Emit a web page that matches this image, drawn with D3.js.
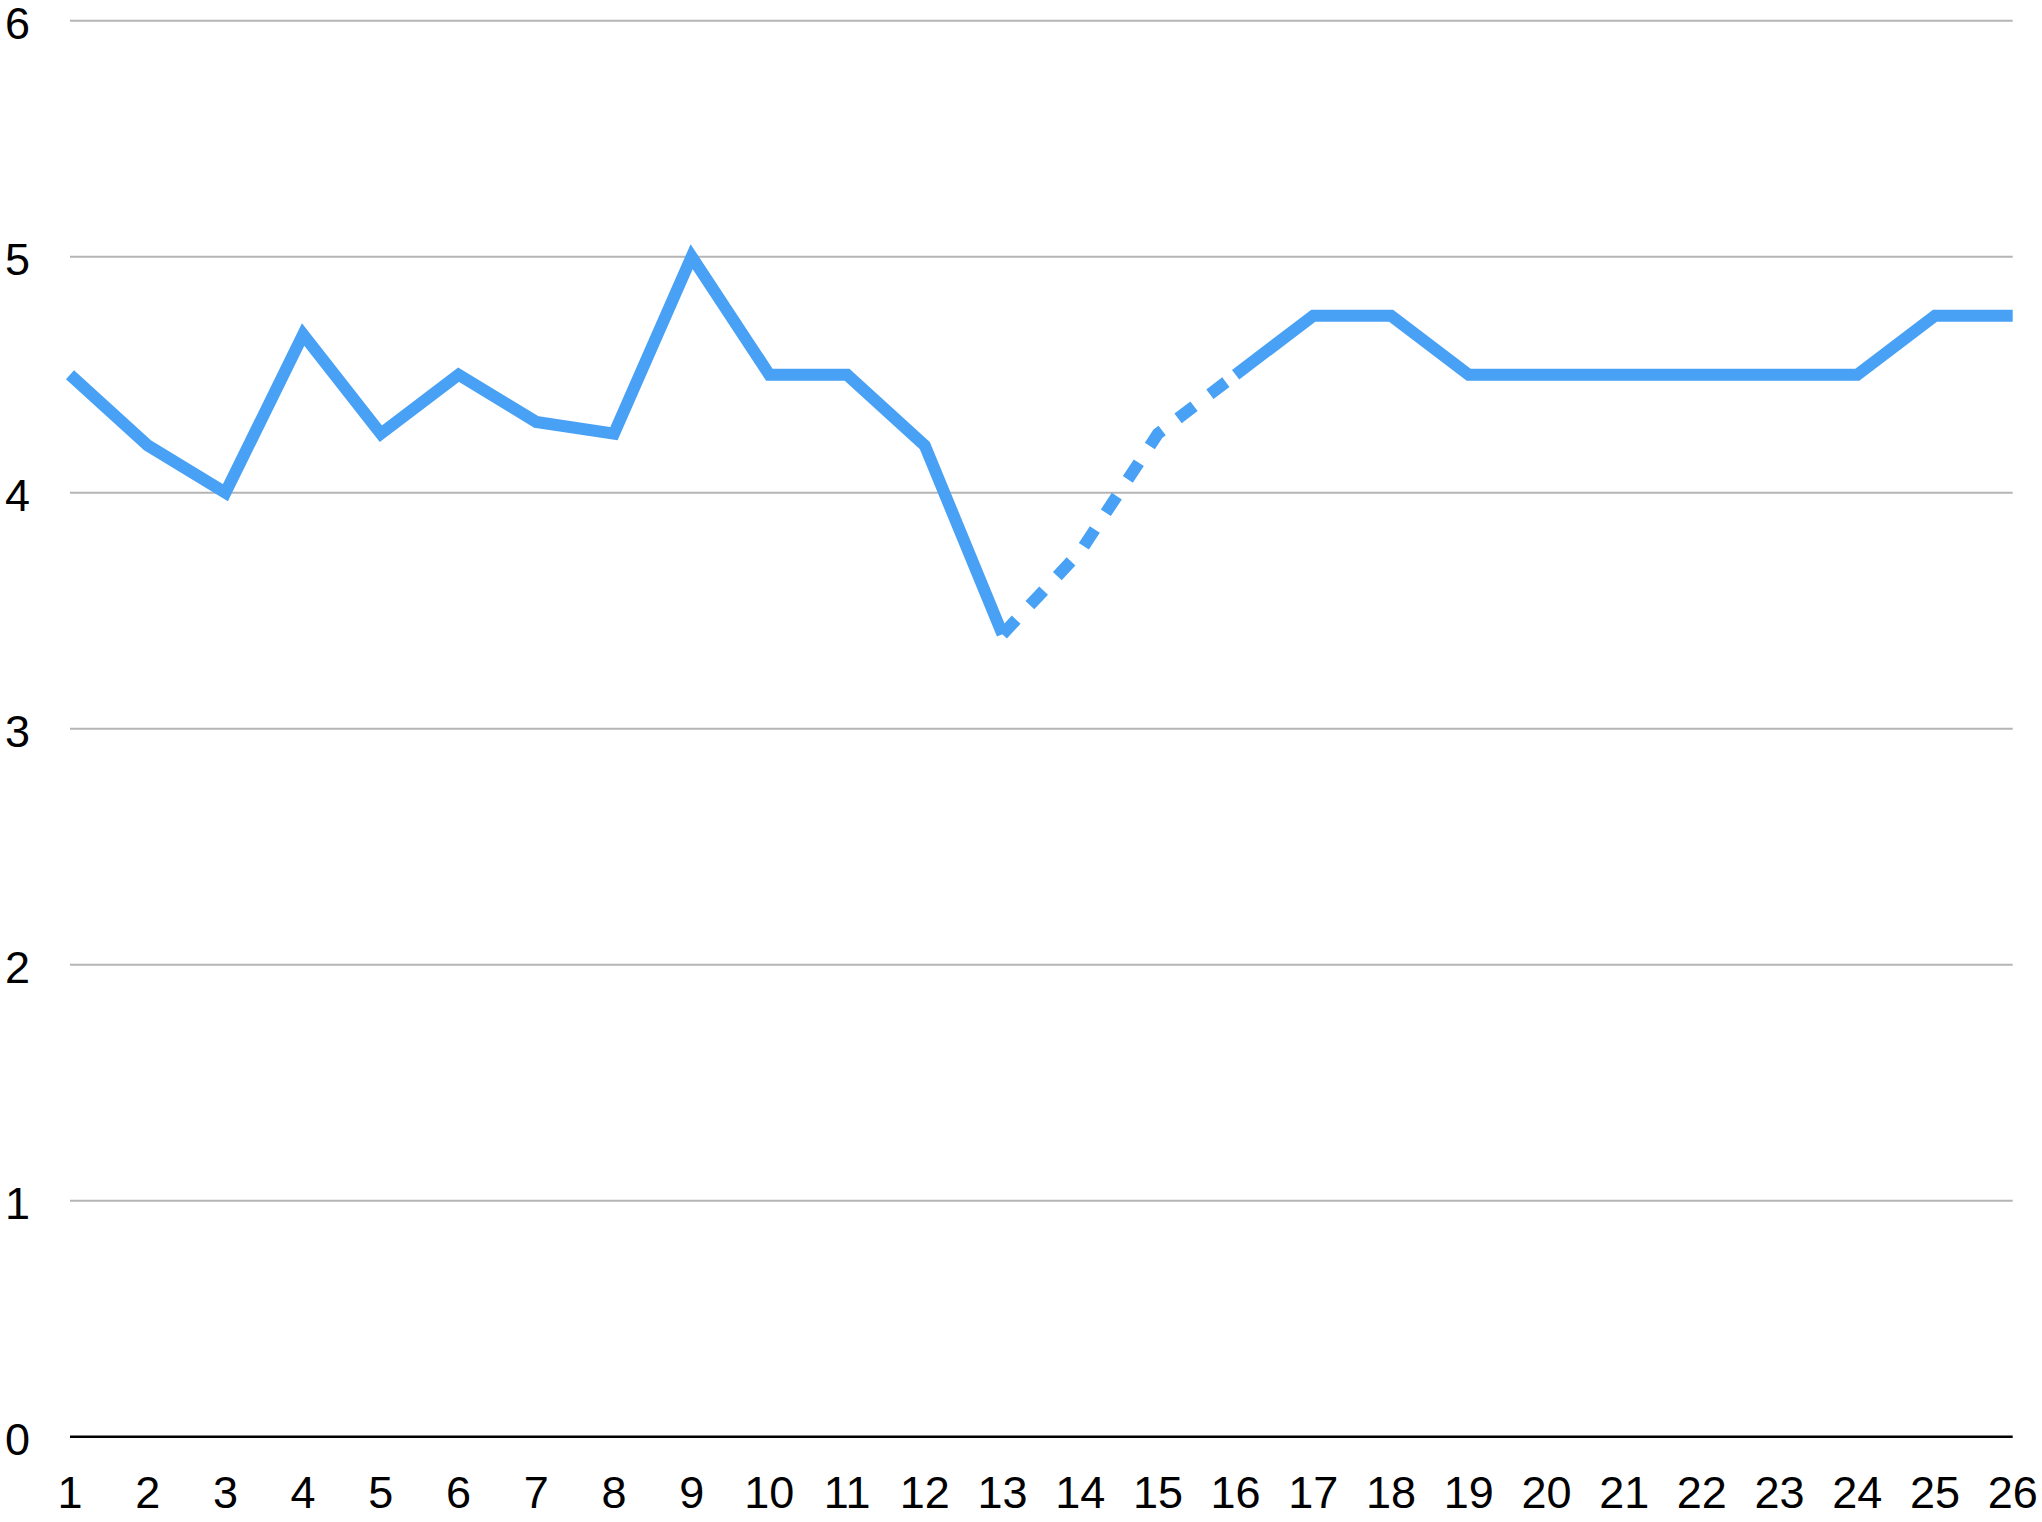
<!DOCTYPE html>
<html>
<head>
<meta charset="utf-8">
<script src="https://cdn.jsdelivr.net/npm/d3@7"></script>
<style>
  html, body { margin: 0; padding: 0; background: #fff; }
  svg text { font-family: "Liberation Sans", Arial, Helvetica, sans-serif; fill: #000; }
</style>
</head>
<body>
<div id="chart"></div>
<script>
const categories = ['1', '2', '3', '4', '5', '6', '7', '8', '9', '10', '11', '12', '13',
  '14', '15', '16', '17', '18', '19', '20', '21', '22', '23', '24', '25', '26'];
const values = [4.5, 4.2, 4.0, 4.67, 4.25, 4.5, 4.3, 4.25, 5.0, 4.5, 4.5, 4.2, 3.4,
  3.75, 4.25, 4.5, 4.75, 4.75, 4.5, 4.5, 4.5, 4.5, 4.5, 4.5, 4.75, 4.75];
// points drawn with the dashed line
const estimated = ['14', '15'];
const yTicks = [0, 1, 2, 3, 4, 5, 6];

const width = 2042;
const height = 1522;
const margin = { top: 20.7, right: 29.3, bottom: 85.3, left: 70 };

const svg = d3.select('#chart')
  .append('svg')
  .attr('width', width)
  .attr('height', height);

const x = d3.scalePoint()
  .domain(categories)
  .range([margin.left, width - margin.right]);

const y = d3.scaleLinear()
  .domain([0, 6])
  .range([height - margin.bottom, margin.top]);

// grid lines
svg.append('g')
  .selectAll('line')
  .data(yTicks.filter(d => d > 0))
  .enter()
  .append('line')
  .attr('x1', margin.left)
  .attr('x2', width - margin.right)
  .attr('y1', d => y(d))
  .attr('y2', d => y(d))
  .attr('stroke', '#b5b5b5')
  .attr('stroke-width', 2);

// x axis line
svg.append('line')
  .attr('x1', margin.left)
  .attr('x2', width - margin.right)
  .attr('y1', y(0))
  .attr('y2', y(0))
  .attr('stroke', '#000')
  .attr('stroke-width', 2.6);

// y labels
svg.append('g')
  .selectAll('text')
  .data(yTicks)
  .enter()
  .append('text')
  .attr('x', 5)
  .attr('y', d => y(d) + 18.5)
  .style('font-size', '45px')
  .text(d => d);

// x labels
svg.append('g')
  .selectAll('text')
  .data(categories)
  .enter()
  .append('text')
  .attr('x', d => x(d))
  .attr('y', 1508)
  .attr('text-anchor', 'middle')
  .style('font-size', '45px')
  .text(d => d);

const pts = categories.map((c, i) => ({ c, v: values[i], est: estimated.includes(c) }));

const solid = d3.line()
  .defined(d => !d.est)
  .x(d => x(d.c))
  .y(d => y(d.v));

const dashed = d3.line()
  .defined((d, i) => d.est || (pts[i - 1] && pts[i - 1].est) || (pts[i + 1] && pts[i + 1].est))
  .x(d => x(d.c))
  .y(d => y(d.v));

const lineColor = '#48a1f5';

svg.append('path')
  .attr('d', solid(pts))
  .attr('fill', 'none')
  .attr('stroke', lineColor)
  .attr('stroke-width', 12)
  .attr('stroke-linejoin', 'miter')
  .attr('stroke-linecap', 'butt');

svg.append('path')
  .attr('d', dashed(pts))
  .attr('fill', 'none')
  .attr('stroke', lineColor)
  .attr('stroke-width', 12)
  .attr('stroke-dasharray', '20 20')
  .attr('stroke-linejoin', 'miter')
  .attr('stroke-linecap', 'butt');
</script>
</body>
</html>
